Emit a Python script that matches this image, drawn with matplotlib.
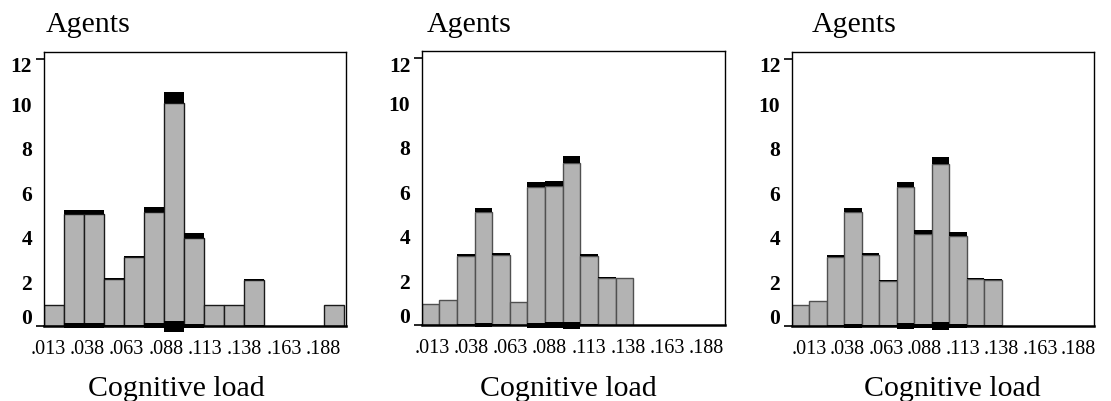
import matplotlib
matplotlib.use('Agg')
import matplotlib.pyplot as plt
from matplotlib.ticker import FixedLocator

plt.rcParams['font.family'] = ['Liberation Serif', 'DejaVu Serif']

# ---------------- data ----------------
x_tick_labels = ['.013', '.038', '.063', '.088', '.113', '.138', '.163', '.188']
y_tick_labels = ['0', '2', '4', '6', '8', '10', '12']
y_tick_values = [0, 2, 4, 6, 8, 10, 12]

# panel 1
bins_a = [0, 1, 2, 3, 4, 5, 6, 7, 8, 9, 10, 14]
vals_a = [0.95, 5.0, 5.0, 2.1, 3.07, 5.1, 10.0, 3.94, 0.95, 0.95, 2.05, 0.95]
err_a = [0.0, 0.22, 0.22, 0.05, 0.08, 0.22, 0.5, 0.21, 0.0, 0.0, 0.06, 0.0]

# panel 2
bins_b = [0, 1, 2, 3, 4, 5, 6, 7, 8, 9, 10, 11]
vals_b = [0.93, 1.11, 3.1, 5.06, 3.14, 1.05, 6.2, 6.23, 7.3, 3.11, 2.13, 2.1]
err_b = [0.0, 0.0, 0.09, 0.19, 0.09, 0.0, 0.24, 0.25, 0.29, 0.08, 0.03, 0.02]

# panel 3
bins_c = [0, 1, 2, 3, 4, 5, 6, 7, 8, 9, 10, 11]
vals_c = [0.93, 1.09, 3.1, 5.1, 3.18, 2.02, 6.22, 4.12, 7.27, 4.05, 2.11, 2.07]
err_c = [0.0, 0.0, 0.08, 0.21, 0.09, 0.02, 0.26, 0.18, 0.32, 0.16, 0.03, 0.02]

panels = [(bins_a, vals_a, err_a), (bins_b, vals_b, err_b), (bins_c, vals_c, err_c)]

# ---------------- layout (pixels) ----------------
W, H = 1111, 402
layout = [
    dict(l=43.5, r=345.5, t=52.7, b=326.7, binw=20.0, tk=(4.5, 279.8), ec='#1a1a1a', tx=46, lx=176),
    dict(l=421.7, r=725.0, t=51.7, b=326.0, binw=17.63, tk=(10.3, 284.6), ec='#505050', tx=427, lx=568),
    dict(l=791.7, r=1094.3, t=53.3, b=326.7, binw=17.5, tk=(17.5, 286.6), ec='#505050', tx=812, lx=952),
]
unit_px = 22.25

fig = plt.figure(figsize=(W / 100, H / 100), dpi=100)

for (bins, vals, errs), L in zip(panels, layout):
    ax = fig.add_axes([L['l'] / W, 1 - L['b'] / H, (L['r'] - L['l']) / W, (L['b'] - L['t']) / H])
    width_bins = (L['r'] - L['l']) / L['binw']
    ax.set_xlim(-0.5, -0.5 + width_bins)
    ax.set_ylim(0, (L['b'] - L['t']) / unit_px)

    # gray bars
    ax.bar(bins, vals, width=1.0, color='#b3b3b3', edgecolor=L['ec'], linewidth=1.0, zorder=2)
    # black top caps
    nz = [i for i, e in enumerate(errs) if e > 0]
    ax.bar([bins[i] for i in nz], [errs[i] for i in nz], bottom=[vals[i] for i in nz],
           width=1.0, color='black', linewidth=0, zorder=3)
    # black bottom bands (around zero)
    ax.bar([bins[i] for i in nz], [errs[i] for i in nz], bottom=[-0.55 * errs[i] for i in nz],
           width=1.0, color='black', linewidth=0, zorder=3, clip_on=False)

    for s in ['top', 'right', 'left']:
        ax.spines[s].set_linewidth(1.0)
    ax.spines['bottom'].set_linewidth(1.8)
    ax.spines['bottom'].set_zorder(4)

    # y tick labels (0 raised, 12 lowered slightly as in the original)
    ypos = list(y_tick_values)
    ypos[0] = 0.45
    ypos[-1] = 11.77
    ax.yaxis.set_major_locator(FixedLocator(ypos))
    ax.set_yticklabels(y_tick_labels, fontsize=15.5, fontweight='bold')
    ax.tick_params(axis='y', which='major', length=0, pad=8.3)
    ax.yaxis.set_minor_locator(FixedLocator([0, 12]))
    ax.tick_params(axis='y', which='minor', length=6, width=1.2)

    # x tick labels
    f0 = L['tk'][0] / (L['r'] - L['l'])
    f1 = L['tk'][1] / (L['r'] - L['l'])
    xt = [-0.5 + width_bins * (f0 + (f1 - f0) * k / (len(x_tick_labels) - 1)) for k in range(len(x_tick_labels))]
    ax.set_xticks(xt)
    ax.set_xticklabels(x_tick_labels, fontsize=14.5)
    ax.tick_params(axis='x', length=0, pad=9.5)

    fig.text(L['tx'] / W, 1 - 32 / H, 'Agents', fontsize=21.5, ha='left', va='baseline')
    fig.text(L['lx'] / W, 1 - 396 / H, 'Cognitive load', fontsize=21.5, ha='center', va='baseline')

fig.savefig('out.png', dpi=100)
